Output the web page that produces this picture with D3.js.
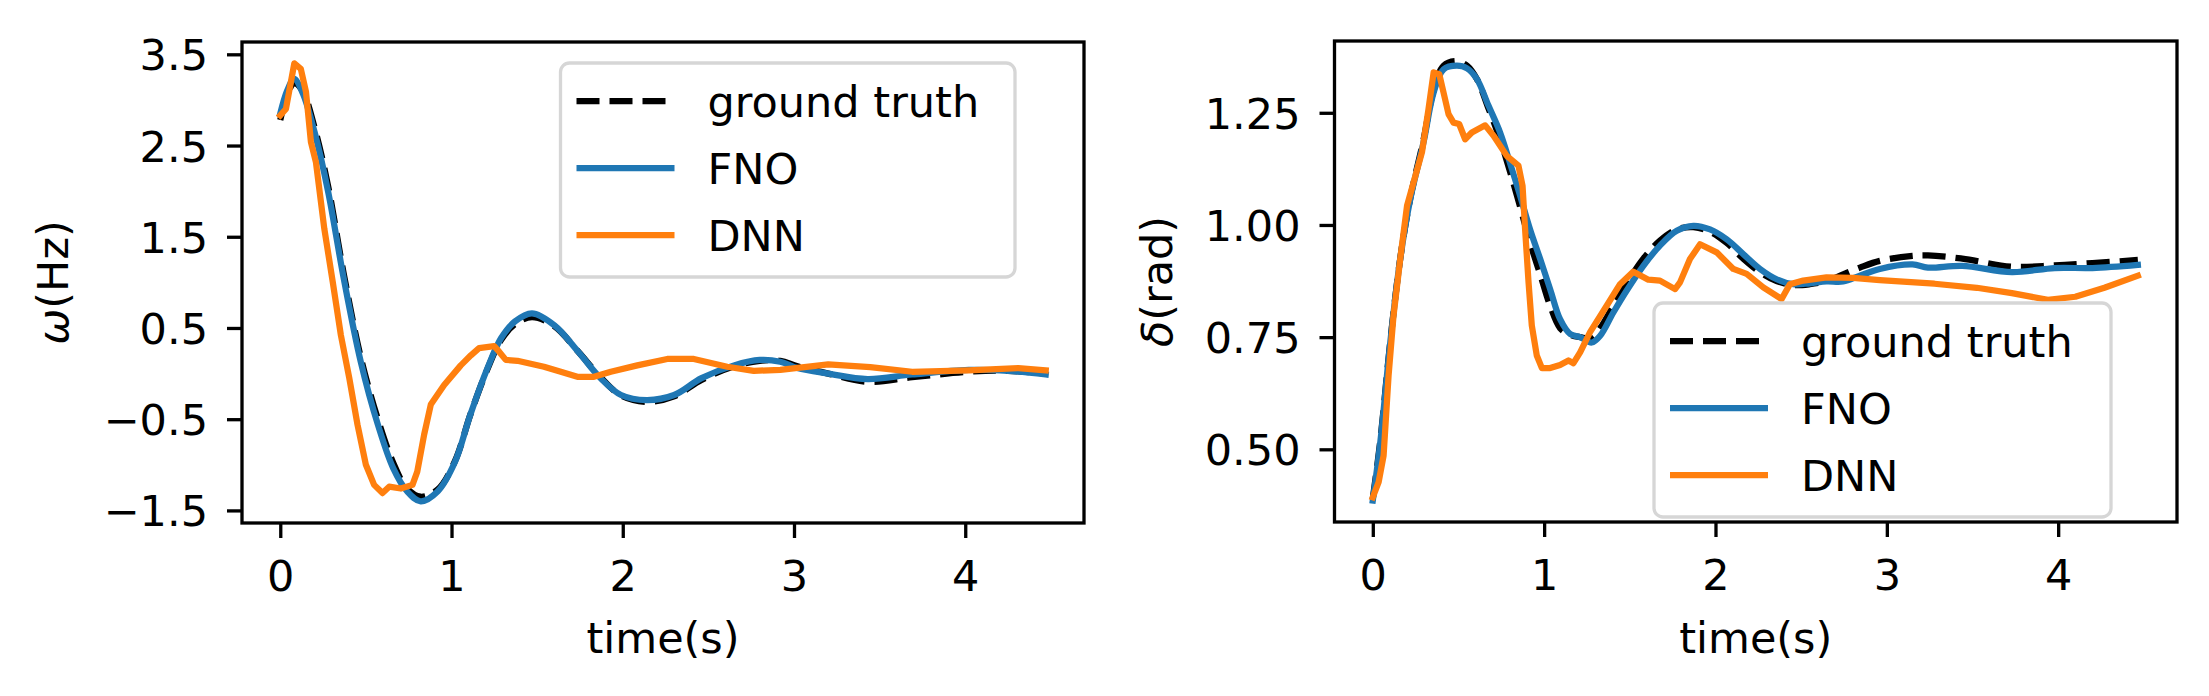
<!DOCTYPE html>
<html>
<head>
<meta charset="utf-8">
<script src="https://cdn.jsdelivr.net/npm/d3@7"></script>
<style>
  body { margin: 0; background: #fff; }
  svg { display: block; font-family: "DejaVu Sans", sans-serif; }
</style>
</head>
<body>
<svg width="2209" height="696"></svg>
<script>
// ---- left panel: omega (Hz) ----
var omegaTime = [0, 0.04, 0.08, 0.13, 0.2, 0.28, 0.37, 0.47, 0.57, 0.66, 0.74, 0.82, 0.92, 1.02, 1.11, 1.21, 1.29, 1.37, 1.47, 1.6, 1.74, 1.87, 1.99, 2.14, 2.3, 2.46, 2.65, 2.8, 2.92, 3.02, 3.2, 3.43, 3.69, 4.02, 4.25, 4.47];
var omegaTruth = [2.78, 3.05, 3.18, 3.10, 2.70, 2.05, 1.10, 0.18, -0.50, -0.98, -1.26, -1.35, -1.27, -0.96, -0.45, 0.05, 0.37, 0.54, 0.62, 0.52, 0.24, -0.04, -0.24, -0.31, -0.25, -0.07, 0.08, 0.14, 0.14, 0.08, 0.0, -0.09, -0.04, 0.02, 0.03, 0.0];
var omegaFNO = [2.85, 3.10, 3.23, 3.08, 2.65, 1.99, 1.05, 0.13, -0.56, -1.04, -1.29, -1.40, -1.29, -0.97, -0.45, 0.06, 0.39, 0.57, 0.66, 0.53, 0.24, -0.05, -0.235, -0.29, -0.235, -0.05, 0.09, 0.15, 0.13, 0.06, 0.0, -0.06, -0.01, 0.04, 0.03, -0.01];
var omegaDNNTime = [0, 0.033, 0.082, 0.12, 0.15, 0.179, 0.208, 0.257, 0.306, 0.354, 0.403, 0.451, 0.50, 0.548, 0.597, 0.636, 0.704, 0.772, 0.80, 0.84, 0.879, 0.957, 1.054, 1.113, 1.161, 1.249, 1.278, 1.317, 1.385, 1.54, 1.638, 1.735, 1.832, 1.93, 2.085, 2.26, 2.415, 2.61, 2.765, 2.92, 3.2, 3.445, 3.69, 4.02, 4.31, 4.47];
var omegaDNN = [2.83, 2.90, 3.40, 3.34, 3.09, 2.54, 2.32, 1.59, 1.01, 0.42, -0.05, -0.56, -1.0, -1.22, -1.31, -1.24, -1.26, -1.22, -1.075, -0.67, -0.34, -0.125, 0.09, 0.20, 0.28, 0.30, 0.24, 0.15, 0.14, 0.075, 0.02, -0.035, -0.035, 0.02, 0.09, 0.16, 0.16, 0.075, 0.03, 0.04, 0.10, 0.07, 0.02, 0.035, 0.06, 0.035];
var omegaTicks = [-1.5, -0.5, 0.5, 1.5, 2.5, 3.5];

// ---- right panel: delta (rad) ----
var deltaTime = [0, 0.044, 0.102, 0.16, 0.219, 0.296, 0.355, 0.413, 0.491, 0.55, 0.608, 0.675, 0.743, 0.80, 0.86, 0.918, 0.977, 1.035, 1.093, 1.152, 1.21, 1.278, 1.327, 1.404, 1.482, 1.579, 1.676, 1.774, 1.871, 1.968, 2.065, 2.162, 2.26, 2.357, 2.454, 2.551, 2.648, 2.745, 2.843, 2.959, 3.15, 3.24, 3.44, 3.73, 3.98, 4.2, 4.465];
var deltaTruth = [0.39, 0.52, 0.74, 0.925, 1.06, 1.19, 1.30, 1.355, 1.365, 1.355, 1.325, 1.26, 1.19, 1.12, 1.04, 0.96, 0.89, 0.82, 0.77, 0.755, 0.75, 0.748, 0.77, 0.82, 0.87, 0.925, 0.965, 0.99, 0.995, 0.985, 0.96, 0.925, 0.895, 0.875, 0.866, 0.868, 0.875, 0.89, 0.905, 0.92, 0.931, 0.932, 0.925, 0.907, 0.91, 0.915, 0.922];
var deltaFNO = [0.386, 0.516, 0.738, 0.924, 1.058, 1.184, 1.295, 1.347, 1.355, 1.349, 1.325, 1.266, 1.206, 1.139, 1.065, 0.99, 0.924, 0.857, 0.79, 0.757, 0.75, 0.738, 0.753, 0.805, 0.854, 0.909, 0.954, 0.987, 0.998, 0.99, 0.968, 0.935, 0.902, 0.879, 0.868, 0.870, 0.874, 0.874, 0.887, 0.902, 0.912, 0.905, 0.909, 0.895, 0.904, 0.904, 0.911];
var deltaDNNTime = [0, 0.034, 0.063, 0.092, 0.121, 0.16, 0.2, 0.238, 0.287, 0.325, 0.355, 0.388, 0.413, 0.442, 0.471, 0.504, 0.539, 0.578, 0.656, 0.705, 0.782, 0.85, 0.874, 0.889, 0.909, 0.928, 0.957, 0.987, 1.035, 1.093, 1.142, 1.171, 1.21, 1.268, 1.365, 1.443, 1.521, 1.608, 1.676, 1.764, 1.793, 1.851, 1.91, 2.007, 2.104, 2.182, 2.279, 2.386, 2.434, 2.512, 2.648, 2.803, 2.959, 3.278, 3.525, 3.73, 3.94, 4.10, 4.27, 4.465];
var deltaDNN = [0.393, 0.427, 0.486, 0.664, 0.798, 0.924, 1.043, 1.095, 1.162, 1.258, 1.34, 1.336, 1.295, 1.247, 1.228, 1.225, 1.191, 1.206, 1.222, 1.199, 1.154, 1.132, 1.087, 0.99, 0.872, 0.776, 0.709, 0.681, 0.681, 0.688, 0.698, 0.692, 0.716, 0.761, 0.82, 0.868, 0.896, 0.878, 0.876, 0.857, 0.872, 0.924, 0.957, 0.939, 0.902, 0.891, 0.861, 0.835, 0.868, 0.876, 0.883, 0.882, 0.877, 0.869, 0.86, 0.848, 0.833, 0.84, 0.86, 0.887];
var deltaTicks = [0.5, 0.75, 1.0, 1.25];

var timeTicks = [0, 1, 2, 3, 4];
var legendLabels = ["ground truth", "FNO", "DNN"];
var colors = ["#000000", "#1f77b4", "#ff7f0e"];

var svg = d3.select("svg");
var fontSize = 43;

function zip(xs, ys) {
    return xs.map(function(x, i) { return [x, ys[i]]; });
}

function panel(opt) {
    var x = d3.scaleLinear().domain([-0.2235, 4.6935]).range([opt.left, opt.right]);
    var y = d3.scaleLinear().domain(opt.yDomain).range([opt.bottom, opt.top]);

    var g = svg.append("g");

    var smooth = d3.line()
        .x(function(d) { return x(d[0]); })
        .y(function(d) { return y(d[1]); })
        .curve(d3.curveCatmullRom.alpha(0.5));
    var straight = d3.line()
        .x(function(d) { return x(d[0]); })
        .y(function(d) { return y(d[1]); });

    var series = [
        {d: zip(opt.time, opt.truth), line: smooth, dash: "23,10"},
        {d: zip(opt.time, opt.fno), line: smooth, dash: null},
        {d: zip(opt.dnnTime, opt.dnn), line: straight, dash: null}
    ];

    series.forEach(function(s, i) {
        g.append("path")
         .attr("d", s.line(s.d))
         .attr("fill", "none")
         .attr("stroke", colors[i])
         .attr("stroke-width", 6.25)
         .attr("stroke-linejoin", "round")
         .attr("stroke-linecap", s.dash ? "butt" : "square")
         .attr("stroke-dasharray", s.dash);
    });

    // axes
    var xAxis = g.append("g")
        .attr("transform", "translate(0," + opt.bottom + ")")
        .call(d3.axisBottom(x).tickValues(timeTicks).tickFormat(d3.format("d"))
                .tickSize(15).tickPadding(22));
    var yAxis = g.append("g")
        .attr("transform", "translate(" + opt.left + ",0)")
        .call(d3.axisLeft(y).tickValues(opt.ticks).tickFormat(d3.format(opt.fmt))
                .tickSize(15).tickPadding(19));
    [xAxis, yAxis].forEach(function(a) {
        a.select(".domain").remove();
        a.selectAll("line").attr("stroke", "#000").attr("stroke-width", 3.3);
        a.selectAll("text").attr("fill", "#000")
         .style("font-size", fontSize + "px")
         .style("font-family", "DejaVu Sans");
    });
    yAxis.selectAll("text").attr("dy", "0.36em");

    g.append("rect")
     .attr("x", opt.left).attr("y", opt.top)
     .attr("width", opt.right - opt.left).attr("height", opt.bottom - opt.top)
     .attr("fill", "none").attr("stroke", "#000").attr("stroke-width", 3.3);

    // axis labels
    g.append("text")
     .attr("x", (opt.left + opt.right) / 2).attr("y", 653)
     .attr("text-anchor", "middle")
     .style("font-size", fontSize + "px")
     .text("time(s)");

    var yl = g.append("text")
     .attr("transform", "translate(" + opt.ylabelX + "," + (opt.top + opt.bottom) / 2 + ") rotate(-90)")
     .attr("text-anchor", "middle")
     .style("font-size", fontSize + "px");
    yl.append("tspan").style("font-style", "italic").text(opt.sym);
    yl.append("tspan").text(opt.unit);

    // legend
    var L = opt.legend;
    var lg = g.append("g");
    lg.append("rect")
      .attr("x", L.x).attr("y", L.y).attr("width", L.w).attr("height", L.h)
      .attr("rx", 9).attr("ry", 9)
      .attr("fill", "#fff").attr("fill-opacity", 0.8)
      .attr("stroke", "#d6d6d6").attr("stroke-width", 3.3);
    legendLabels.forEach(function(lab, i) {
        var cy = L.y + 38 + i * 67;
        lg.append("line")
          .attr("x1", L.x + 16).attr("x2", L.x + 114)
          .attr("y1", cy).attr("y2", cy)
          .attr("stroke", colors[i]).attr("stroke-width", 6.25)
          .attr("stroke-dasharray", i == 0 ? "23,10" : null);
        lg.append("text")
          .attr("x", L.x + 147).attr("y", cy + 16)
          .style("font-size", fontSize + "px")
          .text(lab);
    });
}

panel({
    left: 242, right: 1084, top: 42, bottom: 523,
    yDomain: [-1.638, 3.635], ticks: omegaTicks, fmt: ".1f",
    time: omegaTime, truth: omegaTruth, fno: omegaFNO,
    dnnTime: omegaDNNTime, dnn: omegaDNN,
    sym: "ω", unit: "(Hz)", ylabelX: 68,
    legend: {x: 560.5, y: 63, w: 454.5, h: 214}
});

panel({
    left: 1334.5, right: 2177, top: 41, bottom: 522,
    yDomain: [0.338, 1.41], ticks: deltaTicks, fmt: ".2f",
    time: deltaTime, truth: deltaTruth, fno: deltaFNO,
    dnnTime: deltaDNNTime, dnn: deltaDNN,
    sym: "δ", unit: "(rad)", ylabelX: 1172,
    legend: {x: 1654, y: 303, w: 457, h: 214}
});
</script>
</body>
</html>
